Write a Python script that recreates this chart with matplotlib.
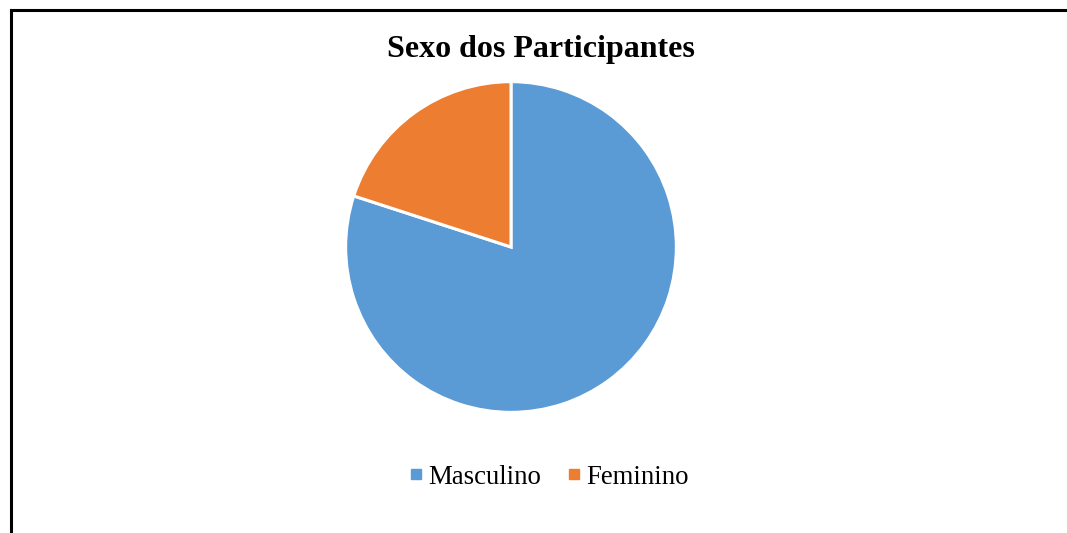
import matplotlib
matplotlib.use("Agg")
import matplotlib.pyplot as plt
from matplotlib.lines import Line2D

categories = ["Masculino", "Feminino"]
values = [80, 20]
colors = ["#5B9BD5", "#ED7D31"]
title = "Sexo dos Participantes"

plt.rcParams['font.family'] = ['Liberation Serif', 'DejaVu Serif']

W, H = 1067, 533
fig = plt.figure(figsize=(W/100, H/100), dpi=100)

# frame lines (top and left)
fig.add_artist(Line2D([10.5/W, 1.0], [1-9.5/H, 1-9.5/H], color="black", lw=2.2, transform=fig.transFigure))
fig.add_artist(Line2D([10.5/W, 10.5/W], [0, 1-9.5/H], color="black", lw=2.2, transform=fig.transFigure))

cx, cy, r = 511, 247, 167
ax = fig.add_axes([(cx-r)/W, (H-cy-r)/H, 2*r/W, 2*r/H])
ax.pie(values, colors=colors, startangle=90, counterclock=False, radius=1,
       wedgeprops=dict(edgecolor="white", linewidth=2.2))
ax.set_xlim(-1.01, 1.01)
ax.set_ylim(-1.01, 1.01)
ax.set_aspect("equal")

fig.text(541/W, 1-50/H, title, ha="center", va="center", fontsize=23, fontweight="bold")

handles = [Line2D([], [], marker="s", linestyle="none", markersize=6.5, color=c) for c in colors]
fig.legend(handles, categories, loc="center", bbox_to_anchor=(546.5/W, 1-477/H), ncol=2,
           frameon=False, fontsize=19.3, handletextpad=0.0, columnspacing=0.8, handlelength=0.9)

fig.savefig("out.png", dpi=100, facecolor="white")
